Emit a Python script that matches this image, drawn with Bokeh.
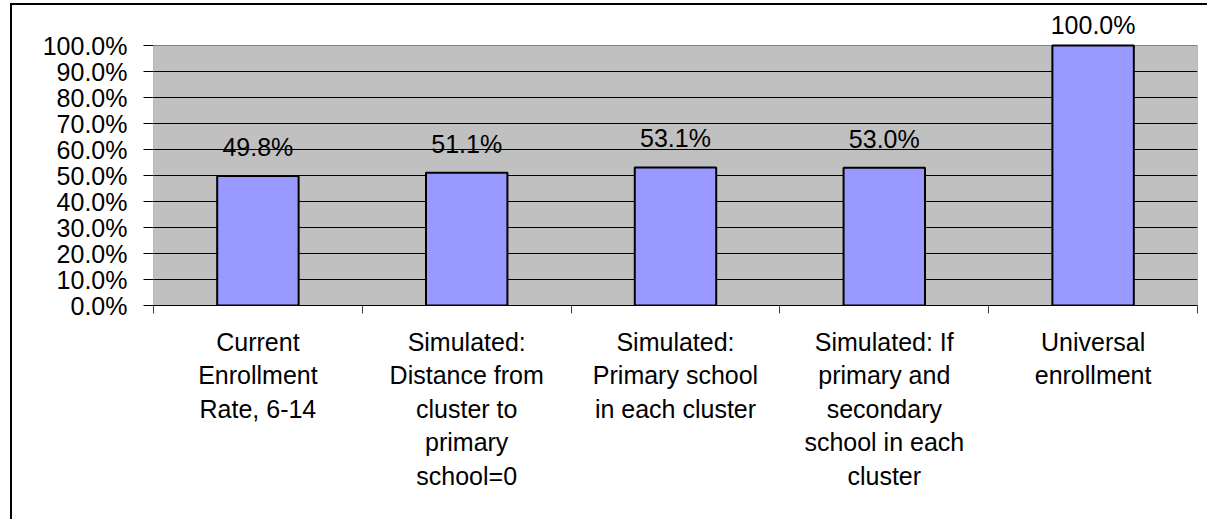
from bokeh.plotting import figure
from bokeh.models import (ColumnDataSource, Range1d, LinearAxis,
                          FixedTicker, NumeralTickFormatter, LabelSet)
from bokeh.core.properties import value
from bokeh.embed import file_html
from bokeh.resources import INLINE

categories = [
    "Current Enrollment Rate, 6-14",
    "Simulated: Distance from cluster to primary school=0",
    "Simulated: Primary school in each cluster",
    "Simulated: If primary and secondary school in each cluster",
    "Universal enrollment",
]
category_labels = [
    "Current\nEnrollment\nRate, 6-14",
    "Simulated:\nDistance from\ncluster to\nprimary\nschool=0",
    "Simulated:\nPrimary school\nin each cluster",
    "Simulated: If\nprimary and\nsecondary\nschool in each\ncluster",
    "Universal\nenrollment",
]
values = [0.498, 0.511, 0.531, 0.530, 1.000]
value_labels = ["49.8%", "51.1%", "53.1%", "53.0%", "100.0%"]
y_ticks = [0.0, 0.1, 0.2, 0.3, 0.4, 0.5, 0.6, 0.7, 0.8, 0.9, 1.0]

FONT = "Liberation Sans"
FS = "25px"

n = len(categories)
centers = [i + 0.5 for i in range(n)]

src = ColumnDataSource(dict(
    x=centers,
    cat=categories,
    val=values,
    lab=value_labels,
    off=[20 if v < 0.95 else 12 for v in values],
))

p = figure(
    x_range=Range1d(0, n), y_range=Range1d(0, 1 + 40 / 260),
    width=1197, height=516,
    min_border_left=141, min_border_right=12, min_border_top=0, min_border_bottom=216,
    output_backend="svg", toolbar_location=None, tools="",
    x_axis_location=None,
    background_fill_color="white",
    border_fill_color="white",
    styles={"border-left": "2px solid black", "border-top": "2px solid black",
            "margin-left": "10px", "margin-top": "3px"},
)
p.outline_line_color = None

# plot area (grey) from 0% to 100%
p.quad(left=[0], right=[n], bottom=[y_ticks[0]], top=[y_ticks[-1]],
       fill_color="#C0C0C0", line_color="#808080", line_width=1, level="image")

p.xgrid.visible = False
p.ygrid.ticker = FixedTicker(ticks=y_ticks[1:-1])
p.ygrid.grid_line_color = "black"
p.ygrid.grid_line_width = 1

p.vbar(x="x", top="val", width=0.39, source=src,
       fill_color="#9999FF", line_color="black", line_width=2)

labels = LabelSet(x="x", y="val", text="lab", source=src, y_offset="off",
                  text_align="center", text_baseline="alphabetic",
                  text_font=value(FONT), text_font_size=value(FS), text_color="black")
p.add_layout(labels)

# y axis
yax = p.yaxis[0]
yax.ticker = FixedTicker(ticks=y_ticks)
yax.formatter = NumeralTickFormatter(format="0.0%")
yax.major_tick_out = 10
yax.major_tick_in = 0
yax.minor_tick_line_color = None
yax.axis_line_color = None
yax.major_tick_line_color = "black"
yax.major_label_standoff = 16
yax.major_label_text_font = FONT
yax.major_label_text_font_size = FS
yax.major_label_text_color = "black"

# x axis with ticks at category boundaries
bax = LinearAxis(ticker=FixedTicker(ticks=list(range(n + 1))))
bax.major_tick_out = 8
bax.major_tick_in = 0
bax.minor_tick_line_color = None
bax.axis_line_color = "black"
bax.major_tick_line_color = "#404040"
bax.major_label_overrides = {i: "" for i in range(n + 1)}
bax.major_label_standoff = 0
p.add_layout(bax, "below")

# category labels
cax = LinearAxis(ticker=FixedTicker(ticks=centers))
cax.axis_line_color = None
cax.major_tick_line_color = None
cax.minor_tick_line_color = None
cax.major_label_standoff = 8
cax.major_label_text_font = FONT
cax.major_label_text_font_size = FS
cax.major_label_text_color = "black"
cax.major_label_overrides = {c: lab for c, lab in zip(centers, category_labels)}
p.add_layout(cax, "below")

open("out.html", "w").write(file_html(p, INLINE))
